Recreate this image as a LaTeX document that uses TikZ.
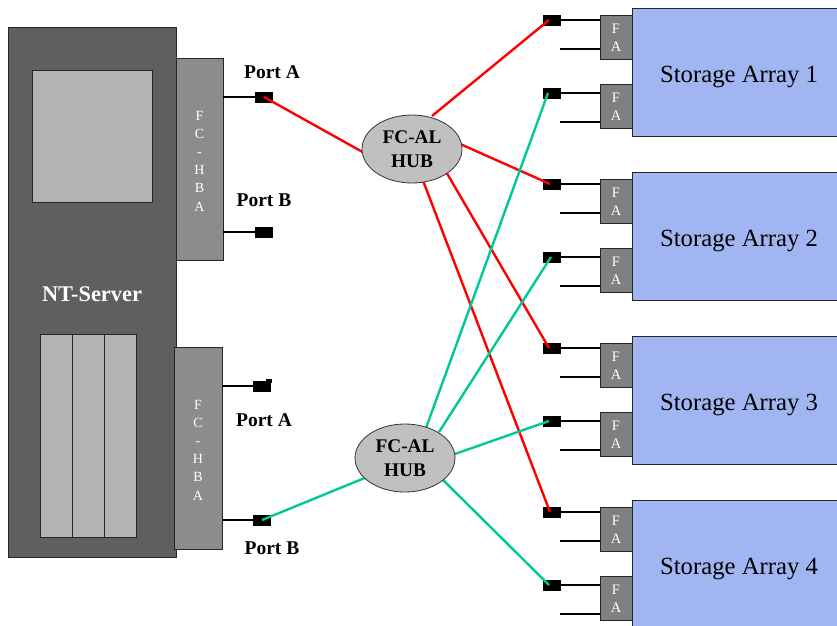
\documentclass[tikz,border=0pt]{standalone}
\usepackage{fontspec}
\setmainfont{Liberation Serif}
\usetikzlibrary{shapes.geometric}
\definecolor{srvdark}{HTML}{5F5F5F}
\definecolor{srvlight}{HTML}{B3B3B3}
\definecolor{hbagray}{HTML}{8C8C8C}
\definecolor{fagray}{HTML}{808080}
\definecolor{stblue}{HTML}{A0B5F2}
\definecolor{hubgray}{HTML}{C0C0C0}
\definecolor{fcred}{HTML}{FF0000}
\definecolor{fcgreen}{HTML}{00C896}
\tikzset{
  box/.style={draw=black!85, line width=0.8pt, inner sep=0pt, anchor=north west},
  portbox/.style={fill=black, draw=black, minimum width=17pt, minimum height=10pt, inner sep=0pt},
  stub/.style={line width=2.6pt, black},
  redlink/.style={line width=2.4pt, fcred},
  greenlink/.style={line width=2.4pt, fcgreen},
  hub/.style={ellipse, draw=black!80, line width=0.8pt, fill=hubgray, minimum width=100pt, minimum height=68pt, inner sep=0pt, align=center, font=\bfseries\fontsize{19.3}{24}\selectfont},
  lbl/.style={font=\bfseries\fontsize{19.5}{22}\selectfont},
  falbl/.style={font=\fontsize{14.5}{18}\selectfont, text=white, align=center},
  hbalbl/.style={font=\fontsize{14}{18.2}\selectfont, text=white, align=center},
}
\begin{document}
\begin{tikzpicture}[x=1pt,y=-1pt]
\useasboundingbox (0,0) rectangle (837,625);
% server
\node[box, fill=srvdark, minimum width=168pt, minimum height=530pt] (server) at (8,27) {};
\node[box, fill=srvlight, minimum width=120pt, minimum height=132pt] (screen) at (32,70) {};
\node[box, fill=srvlight, minimum width=32pt, minimum height=203pt] (slot1) at (40,334) {};
\node[box, fill=srvlight, minimum width=32pt, minimum height=203pt] (slot2) at (72,334) {};
\node[box, fill=srvlight, minimum width=32pt, minimum height=203pt] (slot3) at (104,334) {};
\node[font=\bfseries\fontsize{22.4}{24}\selectfont, text=white] (srvlbl) at (92,294) {NT-Server};
% HBAs
\node[box, fill=hbagray, minimum width=47pt, minimum height=202pt] (hba1) at (176,58) {};
\node[hbalbl] (hba1t) at (199.5,161) {F\\C\\-\\H\\B\\A};
\node[box, fill=hbagray, minimum width=48pt, minimum height=202pt] (hba2) at (174,347) {};
\node[hbalbl] (hba2t) at (198,450) {F\\C\\-\\H\\B\\A};
% ports
\node[portbox] (p1a) at (264,97) {};
\node[portbox] (p1b) at (264,232) {};
\node[portbox] (p2a) at (262,386) {};
\node[portbox] (p2b) at (262,520) {};
\coordinate (h1a) at (223,97);
\coordinate (h1b) at (223,232);
\coordinate (h2a) at (222,386);
\coordinate (h2b) at (222,520);
\draw[stub] (h1a) -- (p1a.west);
\draw[stub] (h1b) -- (p1b.west);
\draw[stub] (h2a) -- (p2a.west);
\draw[stub] (h2b) -- (p2b.west);
\fill[black] (266,379) rectangle (272,383);
\node[lbl] (l1a) at (272,72) {Port A};
\node[lbl] (l1b) at (264,200) {Port B};
\node[lbl] (l2a) at (264,420) {Port A};
\node[lbl] (l2b) at (272,548) {Port B};
% storage arrays
\foreach \k in {1,2,3,4}{
  \pgfmathsetmacro{\oy}{164*(\k-1)}
  \node[box, fill=stblue, minimum width=206pt, minimum height=128pt] (sa\k) at (632,8+\oy) {};
  \node[font=\fontsize{24.7}{28}\selectfont, anchor=base] (sat\k) at (739,82+\oy) {Storage Array \k};
  \node[box, fill=fagray, minimum width=32pt, minimum height=44pt] (fa\k a) at (600,15+\oy) {};
  \node[box, fill=fagray, minimum width=32pt, minimum height=44pt] (fa\k b) at (600,84+\oy) {};
  \node[falbl] (fat\k a) at (616,38+\oy) {F\\A};
  \node[falbl] (fat\k b) at (616,107+\oy) {F\\A};
  \node[portbox] (c\k a) at (552,20+\oy) {};
  \node[portbox] (c\k b) at (552,93+\oy) {};
  \coordinate (s\k a) at (600,20+\oy);
  \coordinate (s\k b) at (600,93+\oy);
  \coordinate (e\k a) at (600,49+\oy);
  \coordinate (e\k b) at (600,122+\oy);
  \coordinate (f\k a) at (560,49+\oy);
  \coordinate (f\k b) at (560,122+\oy);
  \draw[stub] (c\k a.east) -- (s\k a);
  \draw[stub] (c\k b.east) -- (s\k b);
  \draw[stub] (f\k a) -- (e\k a);
  \draw[stub] (f\k b) -- (e\k b);
}
% hub link anchors (on the hub outlines)
\coordinate (r0) at (368,155);
\coordinate (r1) at (432,116);
\coordinate (r2) at (458,143);
\coordinate (r3) at (445,170);
\coordinate (r4) at (422,178);
\coordinate (g0) at (372,475);
\coordinate (g1) at (426,428);
\coordinate (g2) at (439,432);
\coordinate (g3) at (452,455);
\coordinate (g4) at (437,474);
% red links
\draw[redlink] (p1a.center) -- (r0);
\draw[redlink] (r1) -- ([xshift=-3pt]c1a.center);
\draw[redlink] (r2) -- ([xshift=-2pt]c2a.center);
\draw[redlink] (r3) -- ([xshift=-3pt]c3a.center);
\draw[redlink] (r4) -- ([xshift=-2pt]c4a.center);
% green links
\draw[greenlink] (p2b.center) -- (g0);
\draw[greenlink] (g1) -- ([xshift=-4pt]c1b.center);
\draw[greenlink] (g2) -- ([xshift=-1pt]c2b.center);
\draw[greenlink] (g3) -- ([xshift=-3pt]c3b.center);
\draw[greenlink] (g4) -- ([xshift=-3pt]c4b.center);
% hubs
\node[hub] (hub1) at (412,149) {FC-AL\\HUB};
\node[hub] (hub2) at (405,458) {FC-AL\\HUB};
\end{tikzpicture}
\end{document}
